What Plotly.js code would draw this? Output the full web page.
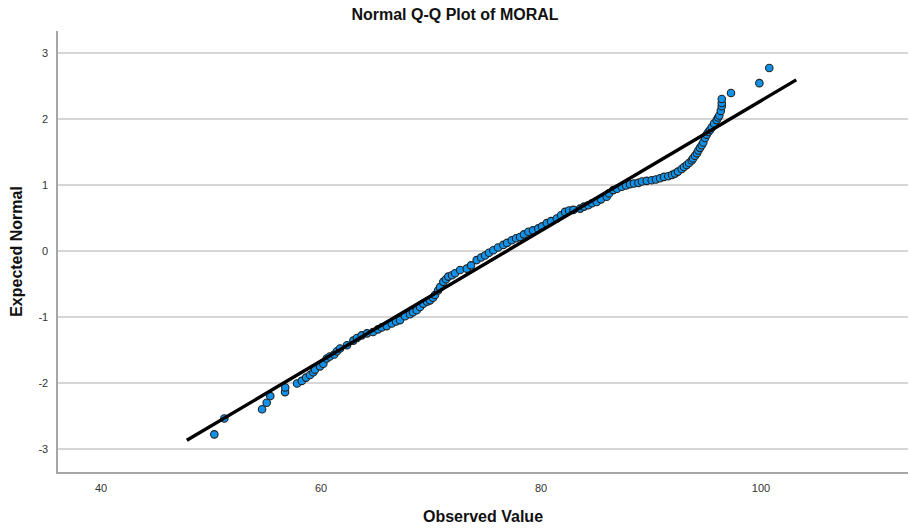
<!DOCTYPE html>
<html>
<head>
<meta charset="utf-8">
<script src="https://cdn.plot.ly/plotly-3.0.1.min.js"></script>
<style>html,body{margin:0;padding:0;background:#fff;}#chart{width:910px;height:531px;}</style>
</head>
<body>
<div id="chart"></div>
<script>
const observed = [
  50.30, 51.21, 54.64, 55.06, 55.39, 56.73, 56.75, 57.82, 58.25, 58.64,
  59.00, 59.30, 59.45, 59.91, 60.21, 60.52, 60.80, 61.20, 61.45, 61.73,
  62.36, 62.94, 63.27, 63.70, 64.18, 64.73, 65.18, 65.52, 65.97, 66.43,
  66.82, 67.18, 67.64, 68.09, 68.36, 68.70, 69.00, 69.30, 69.64, 69.91,
  70.18, 70.36, 70.64, 70.82, 71.12, 71.36, 71.57, 71.91, 72.18, 72.64,
  73.25, 73.64, 74.15, 74.55, 74.91, 75.27, 75.66, 76.09, 76.57, 76.91,
  77.34, 77.73, 78.09, 78.45, 78.85, 79.27, 79.75, 80.09, 80.52, 80.91,
  81.43, 81.82, 82.18, 82.55, 82.94, 83.55, 83.91, 84.30, 84.64, 85.06,
  85.45, 85.97, 86.18, 86.57, 86.91, 87.34, 87.73, 88.09, 88.45, 88.85,
  89.18, 89.61, 90.06, 90.45, 90.82, 91.18, 91.57, 91.91, 92.18, 92.45,
  92.79, 93.00, 93.25, 93.45, 93.70, 93.82, 94.00, 94.18, 94.30, 94.45,
  94.61, 94.75, 94.91, 95.06, 95.21, 95.36, 95.52, 95.73, 95.97, 96.10,
  96.21, 96.34, 96.43, 96.43, 96.43, 97.27, 99.85, 100.75
];
const expectedNormal = [
  -2.78, -2.54, -2.40, -2.30, -2.20, -2.14, -2.07, -2.01, -1.97, -1.92,
  -1.88, -1.84, -1.80, -1.75, -1.71, -1.63, -1.60, -1.57, -1.52, -1.48,
  -1.43, -1.36, -1.32, -1.28, -1.25, -1.23, -1.19, -1.16, -1.14, -1.10,
  -1.07, -1.05, -0.99, -0.96, -0.93, -0.90, -0.85, -0.80, -0.77, -0.75,
  -0.71, -0.67, -0.60, -0.55, -0.47, -0.43, -0.39, -0.37, -0.34, -0.29,
  -0.27, -0.22, -0.14, -0.10, -0.07, -0.03, 0.01, 0.05, 0.09, 0.12,
  0.16, 0.19, 0.21, 0.25, 0.29, 0.31, 0.34, 0.37, 0.42, 0.45,
  0.49, 0.54, 0.59, 0.61, 0.62, 0.64, 0.67, 0.69, 0.72, 0.74,
  0.78, 0.82, 0.87, 0.92, 0.94, 0.97, 0.99, 1.01, 1.02, 1.03,
  1.05, 1.06, 1.07, 1.08, 1.10, 1.12, 1.13, 1.15, 1.17, 1.20,
  1.24, 1.27, 1.30, 1.33, 1.37, 1.40, 1.44, 1.48, 1.52, 1.56,
  1.60, 1.64, 1.71, 1.76, 1.80, 1.83, 1.87, 1.93, 1.98, 2.02,
  2.05, 2.12, 2.19, 2.24, 2.30, 2.39, 2.54, 2.77
];
// Reference line end points
const lineX = [47.8, 103.2];
const lineY = [-2.87, 2.59];

const xTicks = [40, 60, 80, 100];
const xTickText = ['40', '60', '80', '100'];
const yTicks = [-3, -2, -1, 0, 1, 2, 3];
const yTickText = ['-3', '-2', '-1', '0', '1', '2', '3'];

const titleText = 'Normal Q-Q Plot of MORAL';
const xTitle = 'Observed Value';
const yTitle = 'Expected Normal';

const FONT = 'Liberation Sans, Arial, sans-serif';

const traces = [
  {
    type: 'scatter', mode: 'markers',
    x: observed, y: expectedNormal,
    marker: {size: 7.5, color: '#1192e8', line: {color: '#222222', width: 1.1}},
    hoverinfo: 'x+y', showlegend: false
  },
  {
    type: 'scatter', mode: 'lines',
    x: lineX, y: lineY,
    line: {color: '#000000', width: 3.4},
    hoverinfo: 'skip', showlegend: false
  }
];

const layout = {
  width: 910, height: 531,
  margin: {l: 58, r: 2, t: 31, b: 59},
  paper_bgcolor: '#ffffff', plot_bgcolor: '#ffffff',
  font: {family: FONT, color: '#222222'},
  title: {
    text: titleText, x: 0.5, xref: 'container', xanchor: 'center',
    y: 1 - 14/531, yref: 'container', yanchor: 'middle',
    font: {family: FONT, size: 16, color: '#111111', weight: 'bold'}
  },
  xaxis: {
    range: [36.09, 113.36],
    tickvals: xTicks, ticktext: xTickText,
    showgrid: false, zeroline: false,
    showline: true, linecolor: '#a6a6a6', linewidth: 1.6,
    ticks: '', ticklabelstandoff: 5,
    tickfont: {family: FONT, size: 11, color: '#333333'},
    title: {text: xTitle, standoff: 18, font: {family: FONT, size: 16, color: '#111111', weight: 'bold'}},
    fixedrange: true
  },
  yaxis: {
    range: [-3.35, 3.33],
    tickvals: yTicks, ticktext: yTickText,
    showgrid: true, gridcolor: '#d6d6d6', gridwidth: 1.6,
    zeroline: false,
    showline: true, linecolor: '#a6a6a6', linewidth: 1.6,
    ticks: '', ticklabelstandoff: 6,
    tickfont: {family: FONT, size: 11, color: '#333333'},
    title: {text: yTitle, standoff: 12, font: {family: FONT, size: 16, color: '#111111', weight: 'bold'}},
    fixedrange: true
  }
};

Plotly.newPlot('chart', traces, layout, {displayModeBar: false, staticPlot: true});
</script>
</body>
</html>
